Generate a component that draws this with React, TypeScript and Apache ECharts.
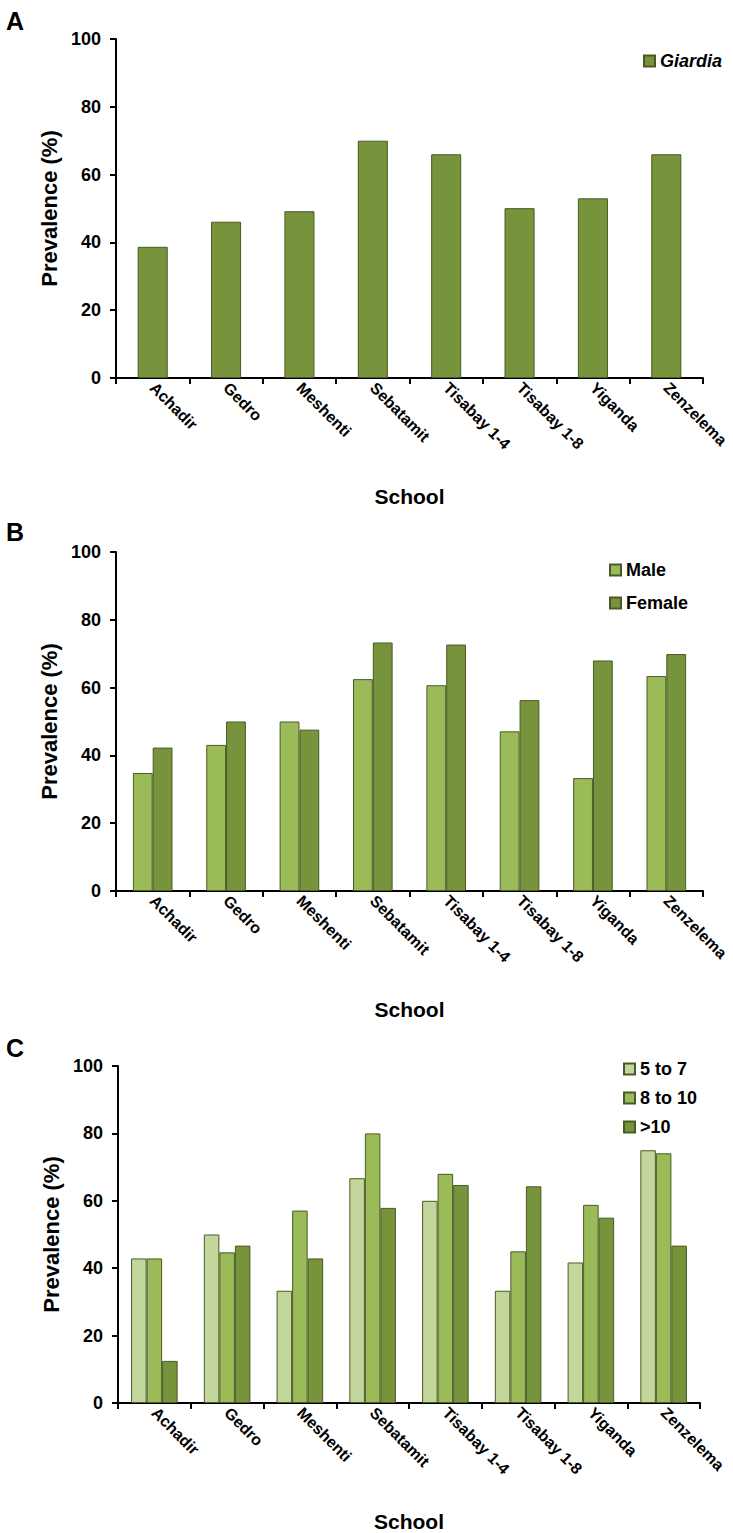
import React, { useEffect, useRef } from "react";
import * as echarts from "echarts";

const schools = ["Achadir", "Gedro", "Meshenti", "Sebatamit", "Tisabay 1-4", "Tisabay 1-8", "Yiganda", "Zenzelema"];
const yTicks = [0, 20, 40, 60, 80, 100];

const giardia = [38.7, 46.1, 49.2, 70.0, 66.0, 50.1, 53.0, 66.0];

const male = [34.8, 43.1, 50.0, 62.5, 60.7, 47.1, 33.3, 63.4];
const female = [42.3, 50.0, 47.6, 73.3, 72.7, 56.3, 68.0, 69.9];

const age5to7 = [42.9, 50.0, 33.3, 66.7, 60.0, 33.3, 41.7, 75.0];
const age8to10 = [42.9, 44.7, 57.1, 80.0, 68.0, 45.0, 58.8, 74.1];
const ageOver10 = [12.5, 46.7, 42.9, 57.9, 64.7, 64.3, 55.0, 46.7];

const C_DARK = "#77933C";
const C_MID = "#9BBB59";
const C_LIGHT = "#C3D69B";
const BORDER = "#4A5A26";

const ARIAL = "'Liberation Sans', Arial, sans-serif";

const grids = [
  { left: 116, top: 39, width: 587, height: 339 },
  { left: 116, top: 552, width: 587, height: 339 },
  { left: 118, top: 1066, width: 582, height: 339 },
];

function xAxisFor(i: number) {
  return {
    type: "category",
    gridIndex: i,
    data: schools,
    name: "School",
    nameLocation: "middle",
    nameGap: 108,
    nameTextStyle: { fontFamily: ARIAL, fontWeight: "bold", fontSize: 21, color: "#000" },
    axisLine: { lineStyle: { color: "#000", width: 2 } },
    axisTick: { show: true, length: 6, lineStyle: { color: "#000", width: 2 } },
    axisLabel: {
      rotate: -45,
      fontFamily: ARIAL,
      fontWeight: "bold",
      fontSize: 16,
      color: "#000",
      margin: 7,
      interval: 0,
    },
    splitLine: { show: false },
  };
}

function yAxisFor(i: number) {
  return {
    type: "value",
    gridIndex: i,
    min: yTicks[0],
    max: yTicks[yTicks.length - 1],
    interval: yTicks[1] - yTicks[0],
    name: "Prevalence (%)",
    nameLocation: "middle",
    nameGap: 54,
    nameRotate: 90,
    nameTextStyle: { fontFamily: ARIAL, fontWeight: "bold", fontSize: 22, color: "#000" },
    axisLine: { show: true, lineStyle: { color: "#000", width: 2 } },
    axisTick: { show: true, length: 6, lineStyle: { color: "#000", width: 2 } },
    axisLabel: { fontFamily: ARIAL, fontWeight: "bold", fontSize: 18, color: "#000", margin: 15 },
    splitLine: { show: false },
  };
}

function bar(name: string, data: number[], color: string, idx: number, catGap: string) {
  return {
    type: "bar",
    name,
    data,
    xAxisIndex: idx,
    yAxisIndex: idx,
    barGap: "0%",
    barCategoryGap: catGap,
    itemStyle: { color, borderColor: BORDER, borderWidth: 1 },
  };
}

export default function App() {
  const ref = useRef<HTMLDivElement>(null);
  useEffect(() => {
    if (!ref.current) return;
    const chart = echarts.init(ref.current, null, { renderer: "svg" });
    const legendBase = {
      orient: "vertical",
      icon: "rect",
      itemWidth: 11,
      itemHeight: 11,
      selectedMode: false,
    };
    chart.setOption({
      animation: false,
      backgroundColor: "#fff",
      grid: grids,
      xAxis: [xAxisFor(0), xAxisFor(1), xAxisFor(2)],
      yAxis: [yAxisFor(0), yAxisFor(1), yAxisFor(2)],
      legend: [
        {
          ...legendBase,
          data: ["Giardia"],
          left: 638,
          top: 47,
          textStyle: { fontFamily: ARIAL, fontWeight: "bold", fontStyle: "italic", fontSize: 18, color: "#000" },
        },
        {
          ...legendBase,
          data: ["Male", "Female"],
          left: 604,
          top: 556,
          itemGap: 15,
          textStyle: { fontFamily: ARIAL, fontWeight: "bold", fontSize: 18, color: "#000" },
        },
        {
          ...legendBase,
          data: ["5 to 7", "8 to 10", ">10"],
          left: 618,
          top: 1055,
          itemGap: 11,
          textStyle: { fontFamily: ARIAL, fontWeight: "bold", fontSize: 18, color: "#000" },
        },
      ],
      graphic: [
        { type: "text", left: 6, top: 8, style: { text: "A", font: `bold 25px ${ARIAL}`, fill: "#000" } },
        { type: "text", left: 6, top: 519, style: { text: "B", font: `bold 25px ${ARIAL}`, fill: "#000" } },
        { type: "text", left: 6, top: 1035, style: { text: "C", font: `bold 25px ${ARIAL}`, fill: "#000" } },
      ],
      series: [
        bar("Giardia", giardia, C_DARK, 0, "59%"),
        bar("Male", male, C_MID, 1, "46%"),
        bar("Female", female, C_DARK, 1, "46%"),
        bar("5 to 7", age5to7, C_LIGHT, 2, "36%"),
        bar("8 to 10", age8to10, C_MID, 2, "36%"),
        bar(">10", ageOver10, C_DARK, 2, "36%"),
      ],
    });
    return () => chart.dispose();
  }, []);
  return (
    <div
      ref={ref}
      style={{ position: "absolute", left: 0, top: 0, width: 733, height: 1533, background: "#fff" }}
    />
  );
}
